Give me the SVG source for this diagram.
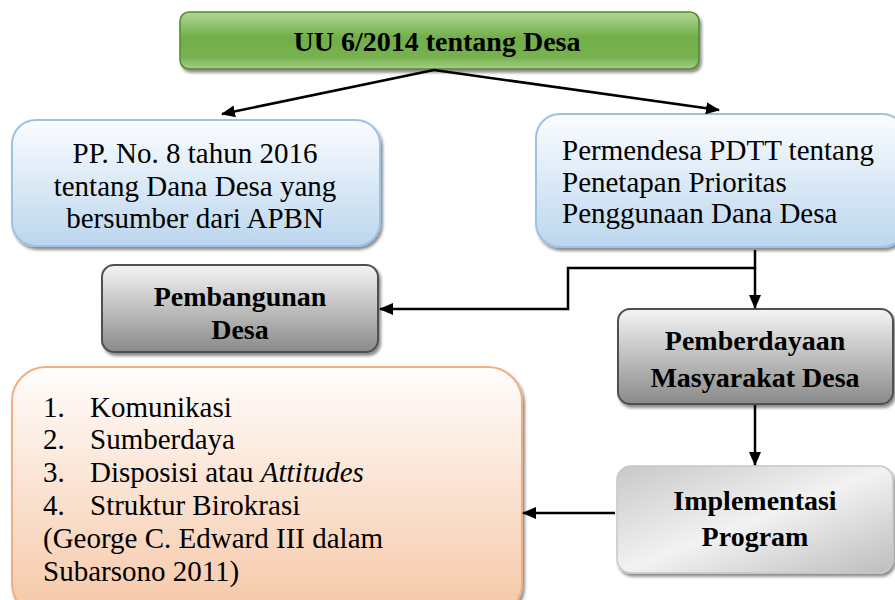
<svg xmlns="http://www.w3.org/2000/svg" width="895" height="600" viewBox="0 0 895 600">
<defs>
<linearGradient id="gGreen" x1="0" y1="0" x2="0" y2="1">
<stop offset="0" stop-color="#b1d697"/><stop offset="0.45" stop-color="#72ae49"/><stop offset="0.8" stop-color="#78b24f"/><stop offset="1" stop-color="#a6cf8a"/>
</linearGradient>
<linearGradient id="gBlue" x1="0" y1="0" x2="0" y2="1">
<stop offset="0" stop-color="#fbfdff"/><stop offset="1" stop-color="#bcd6ee"/>
</linearGradient>
<linearGradient id="gGray" x1="0" y1="0" x2="0" y2="1">
<stop offset="0" stop-color="#f4f4f4"/><stop offset="1" stop-color="#8a8a8a"/>
</linearGradient>
<linearGradient id="gLight" x1="0" y1="0" x2="1" y2="1">
<stop offset="0" stop-color="#c8c8c8"/><stop offset="0.5" stop-color="#f2f2f2"/><stop offset="1" stop-color="#bdbdbd"/>
</linearGradient>
<linearGradient id="gOrange" x1="0" y1="0" x2="0" y2="1">
<stop offset="0" stop-color="#fffdfc"/><stop offset="1" stop-color="#f6c7a6"/>
</linearGradient>
<marker id="ah" markerWidth="14" markerHeight="12" refX="13" refY="6" orient="auto" markerUnits="userSpaceOnUse">
<path d="M0,0 L14,6 L0,12 Z" fill="#000"/>
</marker>
<filter id="sh" x="-5%" y="-5%" width="115%" height="120%">
<feGaussianBlur in="SourceAlpha" stdDeviation="1.5"/>
<feOffset dx="2" dy="3" result="b"/>
<feFlood flood-color="#000" flood-opacity="0.45"/>
<feComposite in2="b" operator="in"/>
<feMerge><feMergeNode/><feMergeNode in="SourceGraphic"/></feMerge>
</filter>
</defs>
<style>
text{font-family:"Liberation Serif","Times New Roman",serif;fill:#000;}
.n{font-size:29px;}
.b{font-size:28px;font-weight:bold;}
.c{text-anchor:middle;}
.edge{fill:none;stroke:#000;stroke-width:2.5;}
</style>
<rect width="895" height="600" fill="#fff"/>

<g id="uu">
<rect x="180" y="12" width="519" height="57" rx="9" fill="url(#gGreen)" stroke="#4f8a2c" stroke-width="1.5" filter="url(#sh)"/>
<text class="b c" x="437" y="51">UU 6/2014 tentang Desa</text>
</g>

<g id="pp">
<rect x="12" y="120" width="368" height="126" rx="24" fill="url(#gBlue)" stroke="#9cc2e5" stroke-width="2" filter="url(#sh)"/>
<text class="n c" x="195" y="163">PP. No. 8 tahun 2016</text>
<text class="n c" x="195" y="196">tentang Dana Desa yang</text>
<text class="n c" x="195" y="228">bersumber dari APBN</text>
</g>

<g id="permendesa">
<rect x="536" y="114" width="370" height="133" rx="24" fill="url(#gBlue)" stroke="#9cc2e5" stroke-width="2" filter="url(#sh)"/>
<text class="n" x="562" y="160">Permendesa PDTT tentang</text>
<text class="n" x="562" y="192">Penetapan Prioritas</text>
<text class="n" x="562" y="223">Penggunaan Dana Desa</text>
</g>

<g id="pembangunan">
<rect x="102" y="265" width="276" height="87" rx="12" fill="url(#gGray)" stroke="#505050" stroke-width="2" filter="url(#sh)"/>
<text class="b c" x="240" y="306">Pembangunan</text>
<text class="b c" x="240" y="339">Desa</text>
</g>

<g id="pemberdayaan">
<rect x="618" y="309" width="275" height="95" rx="12" fill="url(#gGray)" stroke="#505050" stroke-width="2" filter="url(#sh)"/>
<text class="b c" x="755" y="350">Pemberdayaan</text>
<text class="b c" x="755" y="387">Masyarakat Desa</text>
</g>

<g id="implementasi">
<rect x="617" y="466" width="276" height="107" rx="14" fill="url(#gLight)" stroke="#c8c8c8" stroke-width="1.5" filter="url(#sh)"/>
<text class="b c" x="755" y="510">Implementasi</text>
<text class="b c" x="755" y="546">Program</text>
</g>

<g id="faktor">
<rect x="12" y="367" width="510" height="250" rx="34" fill="url(#gOrange)" stroke="#f2ae80" stroke-width="2" filter="url(#sh)"/>
<text class="n" x="43" y="417">1.</text><text class="n" x="90" y="417">Komunikasi</text>
<text class="n" x="43" y="449">2.</text><text class="n" x="90" y="449">Sumberdaya</text>
<text class="n" x="43" y="482">3.</text><text class="n" x="90" y="482">Disposisi atau <tspan font-style="italic">Attitudes</tspan></text>
<text class="n" x="43" y="515">4.</text><text class="n" x="90" y="515">Struktur Birokrasi</text>
<text class="n" x="43" y="548">(George C. Edward III dalam</text>
<text class="n" x="43" y="581">Subarsono 2011)</text>
</g>

<g id="connectors">
<line class="edge" x1="434" y1="70" x2="222" y2="114" marker-end="url(#ah)"/>
<line class="edge" x1="434" y1="70" x2="719" y2="110" marker-end="url(#ah)"/>
<polyline class="edge" points="755,250 755,268 568,268 568,309 380,309" marker-end="url(#ah)"/>
<line class="edge" x1="755" y1="268" x2="755" y2="308" marker-end="url(#ah)"/>
<line class="edge" x1="755" y1="405" x2="755" y2="465" marker-end="url(#ah)"/>
<line class="edge" x1="615" y1="513" x2="523" y2="513" marker-end="url(#ah)"/>
</g>
</svg>
